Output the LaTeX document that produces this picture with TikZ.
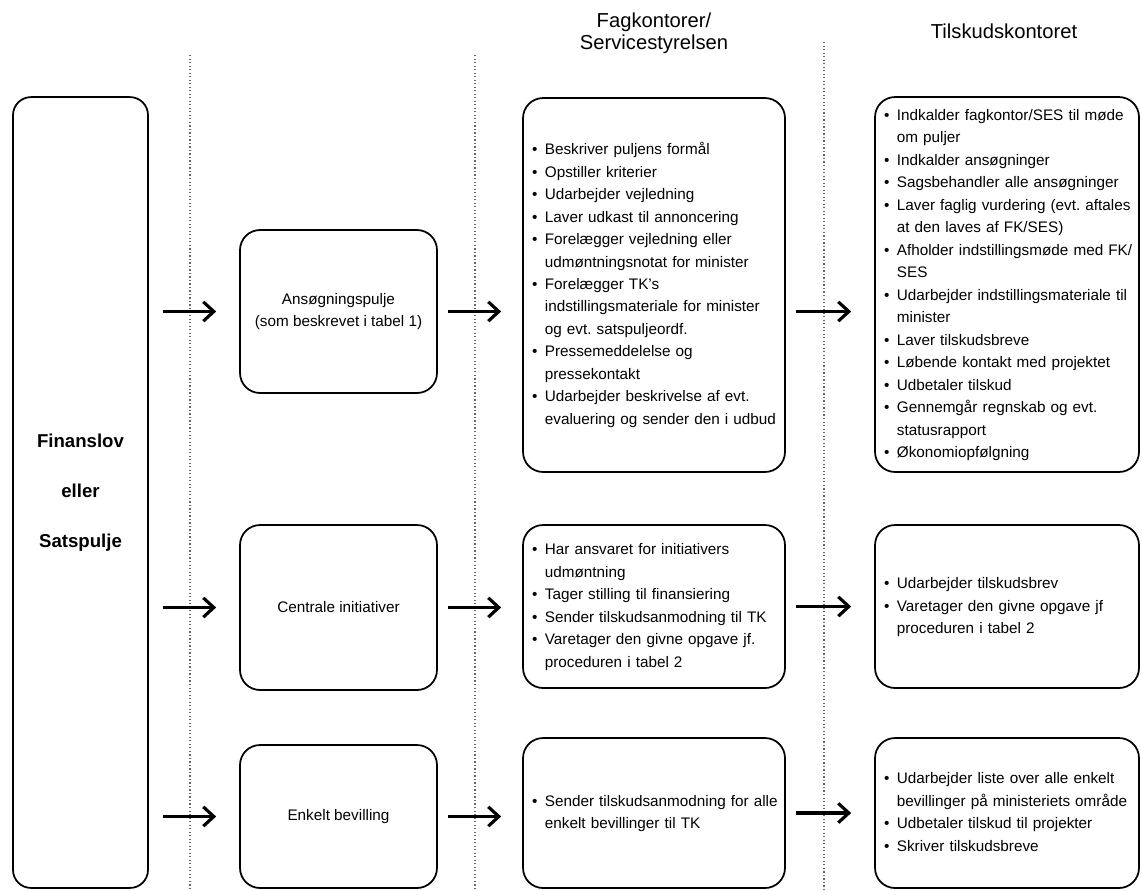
\documentclass[tikz,border=0pt]{standalone}
\usepackage{fontspec}
\setmainfont{Liberation Sans}
\usepackage{tikz}
\usetikzlibrary{arrows.meta}
\frenchspacing
\newcommand{\linecolor}{black}
\newcommand{\sepcolor}{black!60}
\newcommand{\bulletlist}[1]{\noindent\begin{tabular}{@{}l@{\hspace{0.15cm}}l@{}}#1\end{tabular}}
\newcommand{\itm}{\textbullet &}

\begin{document}
\begin{tikzpicture}[
      % GLOBAL CFG
      x=0.02cm, y=-0.02cm,
      font=\fontsize{8.7}{12.8}\selectfont,
      >={Straight Barb[length=6pt,width=11pt]},
      % Styles
      frame/.style={% For the boxes
        rectangle,
        rounded corners=4mm,
        draw=\linecolor,
        line width=1pt,
        inner sep=0pt
      },
      bigbox/.style={% For the budget column
        frame,
        rounded corners=3.6mm,
        minimum width=2.7cm,
        minimum height=15.82cm,
        align=center,
        font=\bfseries\fontsize{10.6}{28.5}\selectfont
      },
      kind/.style={% For the kinds of grants
        frame,
        minimum width=3.94cm,
        align=center
      },
      list/.style={% For the task lists
        frame,
        inner xsep=0.18cm,
        align=left
      },
      title/.style={% For column headers
        align=center,
        font=\fontsize{11.5}{12.6}\selectfont
      },
      sep/.style={% For column separators
        draw=\sepcolor,
        line width=0.7pt,
        dash pattern=on 0.7pt off 1.3pt
      },
      arrowflow/.style={% Arrows between columns
        ->,
        line width=1.8pt,
        shorten <=0.2cm
      }
      ]

      % Column separators
      \draw [sep] (190,55) -- (190,890);
      \draw [sep] (475,55) -- (475,890);
      \draw [sep] (824,42) -- (824,890);

      % Headers
      \node [title] (fkhead) at (654,33) {Fagkontorer/\\Servicestyrelsen};
      \node [title] (tkhead) at (1004,31) {Tilskudskontoret};

      % Budget
      \node [bigbox] (fin) at (80.5,492.5) {Finanslov\\eller\\Satspulje};

      % Kinds of grants
      \node [kind, minimum height=3.26cm] (pool) at (338.5,311.5)
        {Ansøgningspulje\\(som beskrevet i tabel 1)};
      \node [kind, minimum height=3.3cm] (central) at (338.5,607.5)
        {Centrale initiativer};
      \node [kind, minimum height=2.86cm] (single) at (338.5,816.5)
        {Enkelt bevilling};

      % Fagkontorer/Servicestyrelsen
      \node [list, text width=4.88cm, minimum height=7.48cm] (fk1) at (654,285) {\bulletlist{%
        \itm Beskriver puljens formål\\
        \itm Opstiller kriterier\\
        \itm Udarbejder vejledning\\
        \itm Laver udkast til annoncering\\
        \itm Forelægger vejledning eller\\
        & udmøntningsnotat for minister\\
        \itm Forelægger TK's\\
        & indstillingsmateriale for minister\\
        & og evt. satspuljeordf.\\
        \itm Pressemeddelelse og\\
        & pressekontakt\\
        \itm Udarbejder beskrivelse af evt.\\
        & evaluering og sender den i udbud}};
      \node [list, text width=4.88cm, minimum height=3.26cm] (fk2) at (654,606.5) {\bulletlist{%
        \itm Har ansvaret for initiativers\\
        & udmøntning\\
        \itm Tager stilling til finansiering\\
        \itm Sender tilskudsanmodning til TK\\
        \itm Varetager den givne opgave jf.\\
        & proceduren i tabel 2}};
      \node [list, text width=4.88cm, minimum height=3cm] (fk3) at (654,813) {\bulletlist{%
        \itm Sender tilskudsanmodning for alle\\
        & enkelt bevillinger til TK}};

      % Tilskudskontoret
      \node [list, text width=4.92cm, minimum height=7.5cm] (tk1) at (1007,284.5) {\bulletlist{%
        \itm Indkalder fagkontor/SES til møde\\
        & om puljer\\
        \itm Indkalder ansøgninger\\
        \itm Sagsbehandler alle ansøgninger\\
        \itm Laver faglig vurdering (evt. aftales\\
        & at den laves af FK/SES)\\
        \itm Afholder indstillingsmøde med FK/\\
        & SES\\
        \itm Udarbejder indstillingsmateriale til\\
        & minister\\
        \itm Laver tilskudsbreve\\
        \itm Løbende kontakt med projektet\\
        \itm Udbetaler tilskud\\
        \itm Gennemgår regnskab og evt.\\
        & statusrapport\\
        \itm Økonomiopfølgning}};
      \node [list, text width=4.92cm, minimum height=3.26cm] (tk2) at (1007,606.5) {\bulletlist{%
        \itm Udarbejder tilskudsbrev\\
        \itm Varetager den givne opgave jf\\
        & proceduren i tabel 2}};
      \node [list, text width=4.92cm, minimum height=3cm] (tk3) at (1007,813) {\bulletlist{%
        \itm Udarbejder liste over alle enkelt\\
        & bevillinger på ministeriets område\\
        \itm Udbetaler tilskud til projekter\\
        \itm Skriver tilskudsbreve}};

      % Arrows
      \draw [arrowflow, shorten <=0.28cm, shorten >=0.46cm] (fin.east |- pool.west) -- (pool.west);
      \draw [arrowflow, shorten <=0.28cm, shorten >=0.46cm] (fin.east |- central.west) -- (central.west);
      \draw [arrowflow, shorten <=0.28cm, shorten >=0.46cm] (fin.east |- single.west) -- (single.west);
      \draw [arrowflow, shorten >=0.42cm] (pool.east) -- (pool.east -| fk1.west);
      \draw [arrowflow, shorten >=0.42cm] (central.east) -- (central.east -| fk2.west);
      \draw [arrowflow, shorten >=0.42cm] (single.east) -- (single.east -| fk3.west);
      \draw [arrowflow, shorten >=0.46cm] (pool.east -| fk1.east) -- (pool.east -| tk1.west);
      \draw [arrowflow, shorten >=0.46cm] (fk2.east) -- (fk2.east -| tk2.west);
      \draw [arrowflow, shorten >=0.46cm] (fk3.east) -- (fk3.east -| tk3.west);

      \useasboundingbox (0,0) rectangle (1142,890);
    \end{tikzpicture}
\end{document}
